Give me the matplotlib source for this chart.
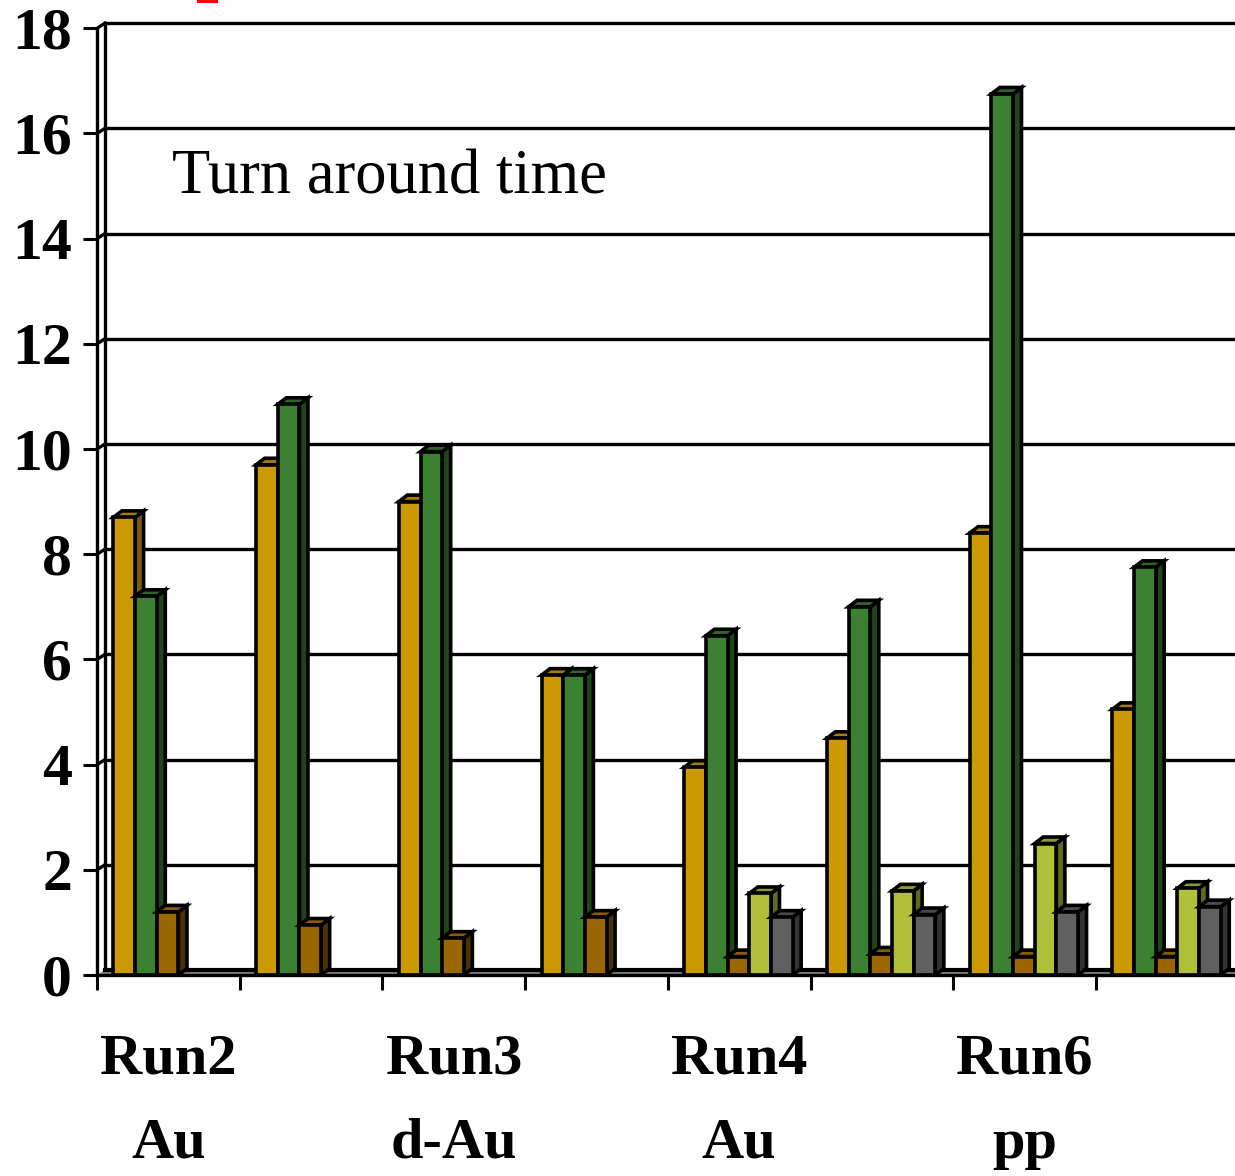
import matplotlib
matplotlib.use('Agg')
import matplotlib.pyplot as plt
from matplotlib.patches import Polygon, Rectangle
import numpy as np

# data (8 categories, 5 series)
group_labels = [('Run2', 'Au'), ('Run3', 'd-Au'), ('Run4', 'Au'), ('Run6', 'pp')]
gold = [8.7, 9.7, 9.0, 5.7, 3.95, 4.5, 8.4, 5.05]
green = [7.2, 10.85, 9.95, 5.7, 6.45, 7.0, 16.75, 7.75]
brown = [1.2, 0.95, 0.7, 1.1, 0.35, 0.4, 0.35, 0.35]
ltgreen = [0, 0, 0, 0, 1.55, 1.6, 2.5, 1.65]
gray = [0, 0, 0, 0, 1.1, 1.15, 1.2, 1.3]
yticks = np.arange(0, 19, 2)

series = [gold, green, brown, ltgreen, gray]
# (front, top, side) colours
colors = [('#CC9900', '#A87E00', '#7A5C00'),
          ('#3C8032', '#2E6626', '#1F4619'),
          ('#996600', '#8A5C00', '#4C3300'),
          ('#B0BF3A', '#8C9A2E', '#5E6A1E'),
          ('#606060', '#4A4A4A', '#333333')]

W, H = 1235, 1176
DPI = 100
PX_PER_UNIT = 52.6
Y0 = 975          # pixel row of value 0 (front)
X0 = 97           # pixel col of category 0
CAT = 142.7       # pixels per category
n = len(gold)

DX = 8 / CAT
DY = 5 / PX_PER_UNIT
BDX = 8.5 / CAT
BDY = 6.5 / PX_PER_UNIT
bw = 0.152
off = 0.115

plt.rcParams['font.family'] = ['Liberation Serif', 'DejaVu Serif']

fig = plt.figure(figsize=(W / DPI, H / DPI), dpi=DPI)
ax = fig.add_axes([X0 / W, (H - Y0) / H, n * CAT / W, Y0 / H])
ax.set_xlim(0, n)
ax.set_ylim(0, Y0 / PX_PER_UNIT)
ax.patch.set_visible(False)

lw = 2.4
blw = 2.6
# gridlines on back wall + diagonals on left wall
for v in yticks[1:]:
    ax.plot([DX, n + DX], [v + DY, v + DY], color='black', lw=lw, zorder=1, clip_on=False)
    ax.plot([0, DX], [v, v + DY], color='black', lw=lw, zorder=1)
# left wall back edge
ax.plot([DX, DX], [DY, yticks[-1] + DY], color='black', lw=lw, zorder=1)

# floor
ax.add_patch(Polygon([(0, 0), (DX, DY), (n + DX, DY), (n, 0)], closed=True,
                     facecolor='#808080', edgecolor='none', zorder=1, clip_on=False))
ax.plot([DX, n + DX], [DY, DY], color='black', lw=3, zorder=1.5, clip_on=False)

# 3d-ish bars
z = 2
for i in range(n):
    for j, vals in enumerate(series):
        v = vals[i]
        if v <= 0:
            continue
        fc, tc, sc = colors[j]
        x = i + off + j * bw
        side = Polygon([(x + bw, 0), (x + bw + BDX, BDY), (x + bw + BDX, v + BDY), (x + bw, v)],
                       closed=True, facecolor=sc, edgecolor='black', lw=blw, zorder=z)
        top = Polygon([(x, v), (x + BDX, v + BDY), (x + bw + BDX, v + BDY), (x + bw, v)],
                      closed=True, facecolor=tc, edgecolor='black', lw=blw, zorder=z)
        ax.add_patch(side)
        ax.add_patch(top)
        ax.bar(x, v, width=bw, align='edge', color=fc, edgecolor='black', lw=blw, zorder=z + 0.5)
        z += 1

# axes styling
for s in ['top', 'right']:
    ax.spines[s].set_visible(False)
ax.spines['left'].set_bounds(0, yticks[-1])
ax.spines['left'].set_linewidth(lw)
ax.spines['bottom'].set_linewidth(lw)
ax.spines['left'].set_zorder(50)
ax.spines['bottom'].set_zorder(50)
ax.set_yticks(yticks)
ax.set_yticklabels([str(t) for t in yticks], fontsize=43, fontweight='bold')
ax.tick_params(axis='y', length=10, width=2.2, pad=8)
ax.set_xticks(np.arange(0, n + 1))
ax.set_xticklabels([])
ax.tick_params(axis='x', length=11, width=2.2)

# category labels
tr = ax.get_xaxis_transform()
for k, (l1, l2) in enumerate(group_labels):
    xc = 2 * k + 0.5
    ax.text(xc, -(1073 - Y0) / Y0, l1, transform=tr, ha='center', va='baseline',
            fontsize=42, fontweight='bold', clip_on=False)
    ax.text(xc, -(1158 - Y0) / Y0, l2, transform=tr, ha='center', va='baseline',
            fontsize=42, fontweight='bold', clip_on=False)

ax.text((172 - X0) / CAT, (Y0 - 193) / PX_PER_UNIT, 'Turn around time',
        fontsize=45, ha='left', va='baseline', zorder=60)

# clipped red mark at the very top edge
fig.add_artist(Rectangle((197 / W, 1 - 3 / H), 21 / W, 3 / H, transform=fig.transFigure,
                         facecolor='red', edgecolor='none'))

fig.savefig('out.png', dpi=DPI)
